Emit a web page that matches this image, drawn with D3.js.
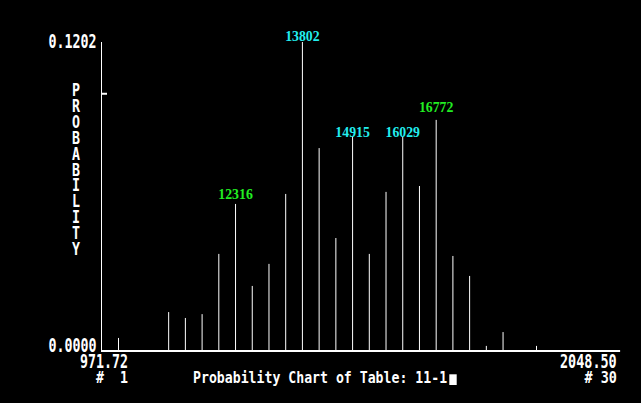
<!DOCTYPE html>
<html>
<head>
<meta charset="utf-8">
<script src="https://cdn.jsdelivr.net/npm/d3@7"></script>
<style>
html,body{margin:0;padding:0;background:#000;overflow:hidden;}
svg{display:block;}
</style>
</head>
<body>
<svg id="chart" width="641" height="403"></svg>
<script>
// ---- data ----
const bins = d3.range(1, 31);
const probs = [0.0047, 0, 0, 0.0148, 0.0125, 0.0140, 0.0375, 0.0570, 0.0250, 0.0336,
               0.0609, 0.1202, 0.0788, 0.0437, 0.0835, 0.0375, 0.0617, 0.0832, 0.0640, 0.0898,
               0.0367, 0.0289, 0.0016, 0.0070, 0, 0.0016, 0, 0, 0, 0];
const labelBins = [8, 12, 15, 18, 20];
const labelTexts = ["12316", "13802", "14915", "16029", "16772"];
const labelKinds = ["green", "cyan", "cyan", "cyan", "green"];
const labelGap = [4.7, 1, -1.3, -0.6, 7.7];
const yMaxLabel = "0.1202", yMinLabel = "0.0000";
const xMinLabel = "971.72", xMaxLabel = "2048.50";
const firstBinLabel = "#  1", lastBinLabel = "# 30";
const title = "Probability Chart of Table: 11-1";
const yTitle = "PROBABILITY";
const yMax = 0.1202, yTick = 0.1;

const colors = {green: "#22ee22", cyan: "#22eeee"};

const svg = d3.select("#chart");
svg.append("rect").attr("width", 641).attr("height", 403).attr("fill", "#000");

const x = d3.scaleLinear().domain([1, 26]).range([118.5, 536.5]);
const y = d3.scaleLinear().domain([0, yMax]).range([350, 42]);

// bars (thin lines)
svg.append("g").selectAll("line").data(bins.filter((b, i) => probs[i] > 0)).join("line")
  .attr("x1", b => x(b)).attr("x2", b => x(b))
  .attr("y1", y(0)).attr("y2", b => y(probs[b - 1]))
  .attr("stroke", "#fff").attr("stroke-width", 1);

// axes
svg.append("line").attr("x1", 101.5).attr("x2", 101.5).attr("y1", y(yMax)).attr("y2", y(0))
  .attr("stroke", "#fff").attr("stroke-width", 1);
svg.append("line").attr("x1", 101).attr("x2", x(31)).attr("y1", y(0) + 1).attr("y2", y(0) + 1)
  .attr("stroke", "#fff").attr("stroke-width", 2);
svg.append("line").attr("x1", 101).attr("x2", 107).attr("y1", y(yTick)).attr("y2", y(yTick))
  .attr("stroke", "#fff").attr("stroke-width", 2);

// monospaced "bitmap" text block helper: one text element, one tspan per line
function mono(lines) {
  const t = svg.append("text")
    .attr("font-family", "DejaVu Sans Mono")
    .attr("font-weight", "bold")
    .attr("fill", "#fff")
    .attr("xml:space", "preserve")
    .style("white-space", "pre");
  lines.forEach(l => {
    t.append("tspan")
      .attr("x", l.x).attr("y", l.y)
      .attr("font-size", l.cap / 0.729)
      .attr("textLength", l.s.length * l.cw)
      .attr("lengthAdjust", "spacingAndGlyphs")
      .text(l.s);
  });
  return t;
}

mono([{s: yMaxLabel, x: 48.5, y: 48, cap: 14, cw: 8}]);
mono([{s: yMinLabel, x: 48.5, y: 352.3, cap: 14, cw: 8}]);
mono([{s: xMinLabel, x: 80, y: 368.3, cap: 14, cw: 8},
      {s: firstBinLabel, x: 96, y: 383.3, cap: 11.6, cw: 8}]);
mono([{s: xMaxLabel, x: 560, y: 368.3, cap: 14, cw: 8.1},
      {s: lastBinLabel, x: 584.5, y: 383.3, cap: 11.6, cw: 8.1}]);
mono([{s: title, x: 193, y: 383, cap: 12, cw: 7.94}]);
svg.append("rect").attr("x", 449.3).attr("y", 374.3).attr("width", 7.4).attr("height", 10.7).attr("fill", "#fff");

// vertical axis title (stacked letters in one text element)
mono(yTitle.split("").map((ch, i) => ({s: ch, x: 72, y: 96 + i * 15.9, cap: 12.7, cw: 8})));

// value labels
labelBins.forEach((b, i) => {
  svg.append("text")
    .attr("x", x(b))
    .attr("y", y(probs[b - 1]) - labelGap[i])
    .attr("text-anchor", "middle")
    .attr("font-family", "Liberation Serif")
    .attr("font-weight", "bold")
    .attr("font-size", 13.8)
    .attr("fill", colors[labelKinds[i]])
    .text(labelTexts[i]);
});
</script>
</body>
</html>
